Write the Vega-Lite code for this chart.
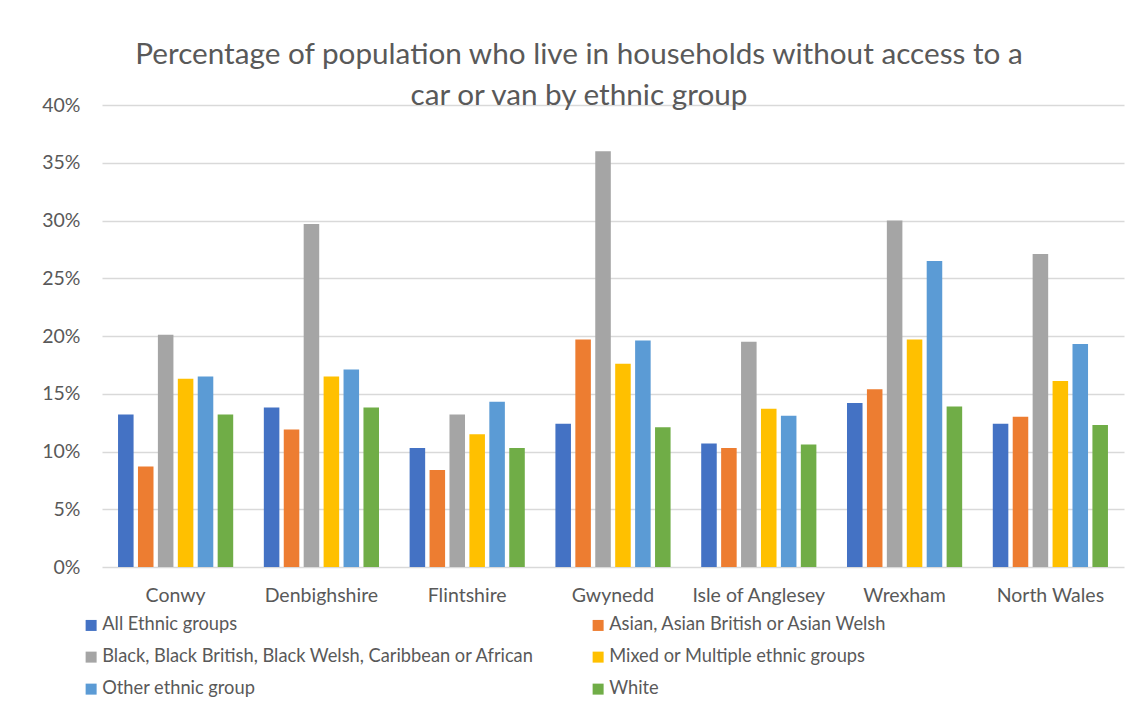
{
  "$schema": "https://vega.github.io/schema/vega-lite/v6.json",
  "width": 1022,
  "height": 462,
  "autosize": {"type": "none"},
  "padding": {"left": 102, "top": 105, "right": 13, "bottom": 142},
  "background": "white",
  "title": {
    "text": ["Percentage of population who live in households without access to a", "car or van by ethnic group"],
    "anchor": "middle",
    "frame": "group",
    "font": "Lato",
    "fontSize": 29.7,
    "fontWeight": "normal",
    "color": "#595959",
    "lineHeight": 41,
    "baseline": "alphabetic",
    "offset": -40,
    "dx": -34
  },
  "data": {
    "values": [
      {"area": "Conwy", "group": "All Ethnic groups", "pct": 13.2},
      {"area": "Conwy", "group": "Asian, Asian British or Asian Welsh", "pct": 8.7},
      {"area": "Conwy", "group": "Black, Black British, Black Welsh, Caribbean or African", "pct": 20.1},
      {"area": "Conwy", "group": "Mixed or Multiple ethnic groups", "pct": 16.3},
      {"area": "Conwy", "group": "Other ethnic group", "pct": 16.5},
      {"area": "Conwy", "group": "White", "pct": 13.2},
      {"area": "Denbighshire", "group": "All Ethnic groups", "pct": 13.8},
      {"area": "Denbighshire", "group": "Asian, Asian British or Asian Welsh", "pct": 11.9},
      {"area": "Denbighshire", "group": "Black, Black British, Black Welsh, Caribbean or African", "pct": 29.7},
      {"area": "Denbighshire", "group": "Mixed or Multiple ethnic groups", "pct": 16.5},
      {"area": "Denbighshire", "group": "Other ethnic group", "pct": 17.1},
      {"area": "Denbighshire", "group": "White", "pct": 13.8},
      {"area": "Flintshire", "group": "All Ethnic groups", "pct": 10.3},
      {"area": "Flintshire", "group": "Asian, Asian British or Asian Welsh", "pct": 8.4},
      {"area": "Flintshire", "group": "Black, Black British, Black Welsh, Caribbean or African", "pct": 13.2},
      {"area": "Flintshire", "group": "Mixed or Multiple ethnic groups", "pct": 11.5},
      {"area": "Flintshire", "group": "Other ethnic group", "pct": 14.3},
      {"area": "Flintshire", "group": "White", "pct": 10.3},
      {"area": "Gwynedd", "group": "All Ethnic groups", "pct": 12.4},
      {"area": "Gwynedd", "group": "Asian, Asian British or Asian Welsh", "pct": 19.7},
      {"area": "Gwynedd", "group": "Black, Black British, Black Welsh, Caribbean or African", "pct": 36.0},
      {"area": "Gwynedd", "group": "Mixed or Multiple ethnic groups", "pct": 17.6},
      {"area": "Gwynedd", "group": "Other ethnic group", "pct": 19.6},
      {"area": "Gwynedd", "group": "White", "pct": 12.1},
      {"area": "Isle of Anglesey", "group": "All Ethnic groups", "pct": 10.7},
      {"area": "Isle of Anglesey", "group": "Asian, Asian British or Asian Welsh", "pct": 10.3},
      {"area": "Isle of Anglesey", "group": "Black, Black British, Black Welsh, Caribbean or African", "pct": 19.5},
      {"area": "Isle of Anglesey", "group": "Mixed or Multiple ethnic groups", "pct": 13.7},
      {"area": "Isle of Anglesey", "group": "Other ethnic group", "pct": 13.1},
      {"area": "Isle of Anglesey", "group": "White", "pct": 10.6},
      {"area": "Wrexham", "group": "All Ethnic groups", "pct": 14.2},
      {"area": "Wrexham", "group": "Asian, Asian British or Asian Welsh", "pct": 15.4},
      {"area": "Wrexham", "group": "Black, Black British, Black Welsh, Caribbean or African", "pct": 30.0},
      {"area": "Wrexham", "group": "Mixed or Multiple ethnic groups", "pct": 19.7},
      {"area": "Wrexham", "group": "Other ethnic group", "pct": 26.5},
      {"area": "Wrexham", "group": "White", "pct": 13.9},
      {"area": "North Wales", "group": "All Ethnic groups", "pct": 12.4},
      {"area": "North Wales", "group": "Asian, Asian British or Asian Welsh", "pct": 13.0},
      {"area": "North Wales", "group": "Black, Black British, Black Welsh, Caribbean or African", "pct": 27.1},
      {"area": "North Wales", "group": "Mixed or Multiple ethnic groups", "pct": 16.1},
      {"area": "North Wales", "group": "Other ethnic group", "pct": 19.3},
      {"area": "North Wales", "group": "White", "pct": 12.3}
    ]
  },
  "mark": {"type": "bar"},
  "encoding": {
    "x": {
      "field": "area",
      "type": "nominal",
      "sort": ["Conwy", "Denbighshire", "Flintshire", "Gwynedd", "Isle of Anglesey", "Wrexham", "North Wales"],
      "scale": {"paddingInner": 0.21, "paddingOuter": 0.11},
      "axis": {
        "title": null,
        "labelAngle": 0,
        "domain": false,
        "ticks": false,
        "labelPadding": 19,
        "labelFont": "Lato",
        "labelFontSize": 19.5,
        "labelColor": "#595959"
      }
    },
    "xOffset": {
      "field": "group",
      "type": "nominal",
      "sort": ["All Ethnic groups", "Asian, Asian British or Asian Welsh", "Black, Black British, Black Welsh, Caribbean or African", "Mixed or Multiple ethnic groups", "Other ethnic group", "White"],
      "scale": {"paddingInner": 0.22}
    },
    "y": {
      "field": "pct",
      "type": "quantitative",
      "scale": {"domain": [0, 40]},
      "axis": {
        "title": null,
        "values": [0, 5, 10, 15, 20, 25, 30, 35, 40],
        "labelExpr": "datum.value + '%'",
        "domain": false,
        "ticks": false,
        "grid": true,
        "gridColor": "#d9d9d9",
        "gridWidth": 1.5,
        "labelPadding": 22,
        "labelFont": "Lato",
        "labelFontSize": 19.5,
        "labelColor": "#595959"
      }
    },
    "color": {
      "field": "group",
      "type": "nominal",
      "scale": {
        "domain": ["All Ethnic groups", "Asian, Asian British or Asian Welsh", "Black, Black British, Black Welsh, Caribbean or African", "Mixed or Multiple ethnic groups", "Other ethnic group", "White"],
        "range": ["#4472C4", "#ED7D31", "#A5A5A5", "#FFC000", "#5B9BD5", "#70AD47"]
      },
      "legend": {
        "title": null,
        "orient": "none",
        "legendX": -20,
        "legendY": 511,
        "columns": 2,
        "direction": "horizontal",
        "padding": 0,
        "columnPadding": 54,
        "rowPadding": 13,
        "symbolType": "square",
        "symbolSize": 121,
        "symbolStrokeWidth": 0,
        "labelOffset": 2,
        "labelFont": "Lato",
        "labelFontSize": 18.25,
        "labelColor": "#595959",
        "labelLimit": 600
      }
    }
  },
  "config": {"view": {"stroke": null}}
}
